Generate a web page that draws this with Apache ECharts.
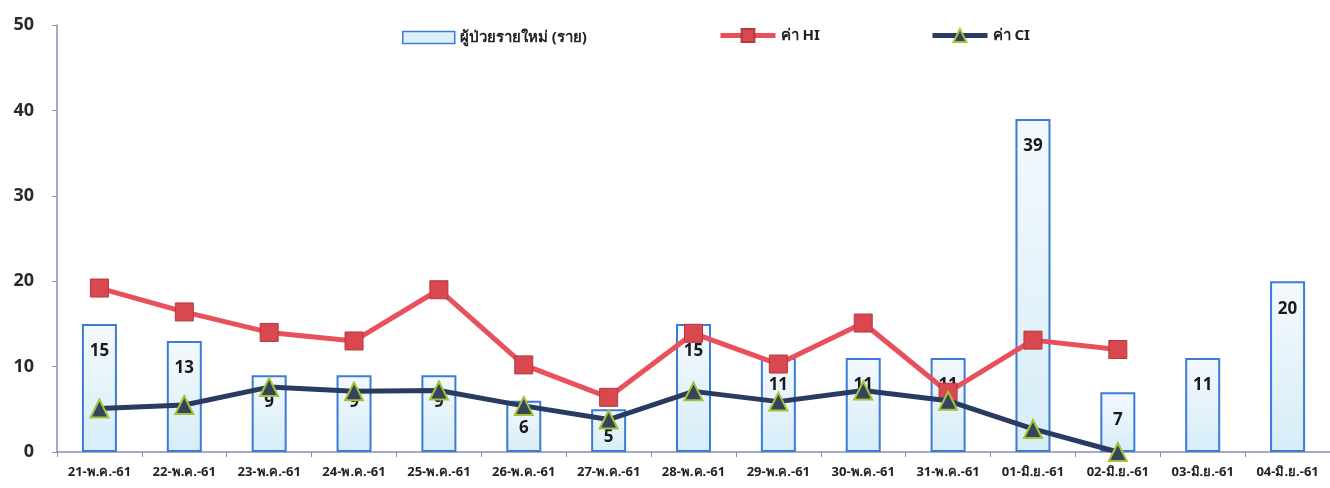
<!DOCTYPE html>
<html><head><meta charset="utf-8">
<script src="https://cdn.jsdelivr.net/npm/echarts@6/dist/echarts.min.js"></script>
<style>html,body{margin:0;padding:0;background:#fff}#c{width:1330px;height:488px}</style>
</head><body><div id="c"></div>
<script>
const categories = ['21-พ.ค.-61','22-พ.ค.-61','23-พ.ค.-61','24-พ.ค.-61','25-พ.ค.-61','26-พ.ค.-61','27-พ.ค.-61','28-พ.ค.-61','29-พ.ค.-61','30-พ.ค.-61','31-พ.ค.-61','01-มิ.ย.-61','02-มิ.ย.-61','03-มิ.ย.-61','04-มิ.ย.-61'];
const newCases = [15,13,9,9,9,6,5,15,11,11,11,39,7,11,20];
const hiValues = [19.2,16.4,14.0,13.0,19.0,10.2,6.4,13.9,10.3,15.1,7.0,13.1,12.0,null,null];
const ciValues = [5.1,5.5,7.6,7.1,7.2,5.4,3.8,7.1,5.9,7.2,6.0,2.7,0,null,null];
const yTicks = [0,10,20,30,40,50];
const seriesNames = ['ผู้ป่วยรายใหม่ (ราย)','ค่า HI','ค่า CI'];

const FONT = '"Noto Sans", "DejaVu Sans", sans-serif';
const legendText = {fontSize:15,fontWeight:'bold',color:'#222',fontFamily:FONT};
const chart = echarts.init(document.getElementById('c'), null, {renderer:'canvas'});
chart.setOption({
  animation:false,
  textStyle:{fontFamily:FONT},
  grid:{left:57,right:0,top:25,bottom:36},
  legend:[
    {left:402, top:30, padding:0, itemWidth:52, itemHeight:12, textStyle:legendText,
     data:[{name:seriesNames[0], icon:'rect', itemStyle:{color:'#dceffa',borderColor:'#3d7bd6',borderWidth:1.5}}]},
    {left:718, top:28, padding:0, itemWidth:55, itemHeight:16, textStyle:legendText,
     data:[{name:seriesNames[1], lineStyle:{width:5}}]},
    {left:930, top:28, padding:0, itemWidth:55, itemHeight:16, textStyle:legendText,
     data:[{name:seriesNames[2], lineStyle:{width:5}}]}
  ],
  xAxis:{
    type:'category', data:categories,
    axisLine:{lineStyle:{color:'#8a8fb3',width:1.5}},
    axisTick:{show:true,length:5,lineStyle:{color:'#8a8fb3'}},
    axisLabel:{fontSize:13,fontWeight:'bold',color:'#222',margin:14,interval:0}
  },
  yAxis:{
    type:'value', min:yTicks[0], max:yTicks[yTicks.length-1], interval:10,
    splitLine:{show:false},
    axisLine:{show:true,lineStyle:{color:'#8a8fb3',width:1.5}},
    axisTick:{show:true,length:5,lineStyle:{color:'#8a8fb3'}},
    axisLabel:{fontSize:18,fontWeight:'bold',color:'#2a2a2a',margin:23}
  },
  series:[
    {
      name:seriesNames[0], type:'bar', data:newCases, barWidth:35,
      itemStyle:{
        color:new echarts.graphic.LinearGradient(0,0,0,1,[{offset:0,color:'#f4f9fd'},{offset:1,color:'#d6edf8'}]),
        borderColor:'#3d7bd6', borderWidth:2
      },
      label:{show:true,position:'insideTop',distance:19,fontSize:17,fontWeight:'bold',color:'#1a1a1a'},
      z:1
    },
    {
      name:seriesNames[1], type:'line', data:hiValues,
      symbol:'rect', symbolSize:18,
      lineStyle:{color:'#e8515b',width:5},
      itemStyle:{color:'#d9474f',borderColor:'#b5383f',borderWidth:1},
      z:3
    },
    {
      name:seriesNames[2], type:'line', data:ciValues,
      symbol:'triangle', symbolSize:18,
      lineStyle:{color:'#2a3b62',width:5},
      itemStyle:{color:'#34445c',borderColor:'#a8c236',borderWidth:2},
      z:4
    }
  ]
});
</script></body></html>
